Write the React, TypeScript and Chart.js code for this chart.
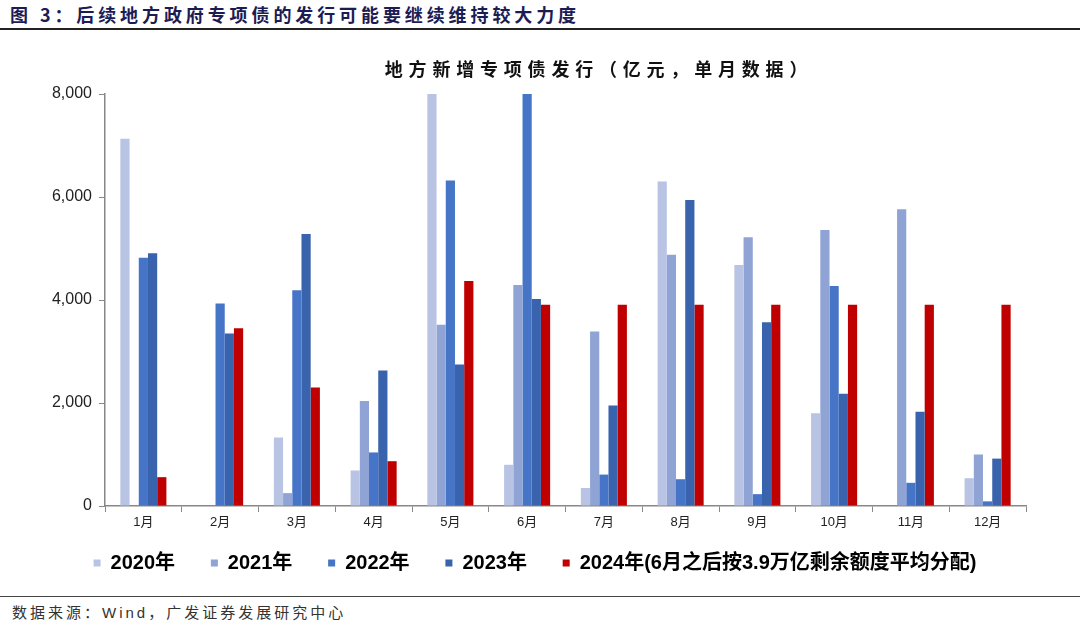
import React, { useEffect, useRef } from "react";
import { Chart, registerables } from "chart.js";

Chart.register(...registerables);

const months = ["1月", "2月", "3月", "4月", "5月", "6月", "7月", "8月", "9月", "10月", "11月", "12月"];
const s2020 = [7130, null, 1330, 690, 8000, 800, 350, 6300, 4680, 1800, null, 540];
const s2021 = [null, null, 250, 2040, 3520, 4290, 3390, 4880, 5220, 5360, 5760, 1000];
const s2022 = [4820, 3930, 4190, 1040, 6320, 8000, 610, 520, 230, 4270, 450, 90];
const s2023 = [4910, 3350, 5280, 2630, 2750, 4020, 1950, 5940, 3570, 2180, 1830, 920];
const s2024 = [560, 3450, 2300, 870, 4370, 3910, 3910, 3910, 3910, 3910, 3910, 3910];
const seriesNames = ["2020年", "2021年", "2022年", "2023年", "2024年(6月之后按3.9万亿剩余额度平均分配)"];
const seriesColors = ["#B9C4E4", "#8FA4D5", "#4674C6", "#3A63AD", "#C00000"];
const yTicks = [0, 2000, 4000, 6000, 8000];

const figTitle = "图 3：后续地方政府专项债的发行可能要继续维持较大力度";
const chartTitle = "地方新增专项债发行（亿元，单月数据）";
const sourceText = "数据来源：Wind，广发证券发展研究中心";

const FONT = "'Liberation Sans', Arial, 'Noto Sans CJK SC', sans-serif";
const LEGEND_GAP = "     ";

export default function App() {
  const ref = useRef<HTMLCanvasElement | null>(null);

  useEffect(() => {
    if (!ref.current) return;
    const all = [s2020, s2021, s2022, s2023, s2024];
    const chart = new Chart(ref.current, {
      type: "bar",
      data: {
        labels: months,
        datasets: all.map((d, i) => ({
          label: seriesNames[i],
          data: d,
          backgroundColor: seriesColors[i],
          borderWidth: 0,
          barPercentage: 1,
          categoryPercentage: 0.6,
        })),
      },
      options: {
        responsive: false,
        animation: false,
        maintainAspectRatio: false,
        layout: { padding: { left: 44, right: 54, top: 54, bottom: 0 } },
        plugins: {
          title: { display: false },
          tooltip: { enabled: false },
          legend: {
            display: true,
            position: "bottom",
            labels: {
              boxWidth: 7,
              boxHeight: 7,
              padding: 8,
              color: "#000",
              font: { family: FONT, size: 20, weight: "bold" },
              generateLabels: (c: any) => {
                const items = (Chart as any).defaults.plugins.legend.labels.generateLabels(c);
                return items.map((it: any, i: number) => ({
                  ...it,
                  text: i < items.length - 1 ? it.text + LEGEND_GAP : it.text,
                  lineWidth: 0,
                }));
              },
            },
          },
        },
        scales: {
          x: {
            grid: {
              offset: true,
              drawOnChartArea: false,
              drawTicks: true,
              tickLength: 6,
              color: "#888",
            },
            border: { color: "#888", width: 1.5 },
            ticks: {
              color: "#222",
              padding: 3,
              font: { family: FONT, size: 13 },
            },
            afterFit: (s: any) => {
              s.height = 39;
            },
          },
          y: {
            min: 0,
            max: 8000,
            afterBuildTicks: (s: any) => {
              s.ticks = yTicks.map((v) => ({ value: v }));
            },
            grid: {
              drawOnChartArea: false,
              drawTicks: true,
              tickLength: 6,
              color: "#888",
            },
            border: { color: "#888", width: 1.5 },
            ticks: {
              color: "#222",
              padding: 7,
              font: { family: FONT, size: 16 },
              callback: (v: any) => Number(v).toLocaleString("en-US"),
            },
            afterFit: (s: any) => {
              s.width = 61;
            },
          },
        },
      },
    });
    return () => chart.destroy();
  }, []);

  return (
    <div
      style={{
        position: "absolute",
        left: 0,
        top: 0,
        width: 1080,
        height: 631,
        background: "#fff",
        overflow: "hidden",
        fontFamily: FONT,
      }}
    >
      <div
        style={{
          position: "absolute",
          left: 10,
          top: 2,
          fontSize: 18,
          fontWeight: "bold",
          color: "#1c1c54",
          letterSpacing: 3.9,
          whiteSpace: "nowrap",
          lineHeight: "24px",
          fontFamily: "'Noto Sans CJK SC', sans-serif",
        }}
      >
        {figTitle}
      </div>
      <div
        style={{ position: "absolute", left: 0, top: 28, width: 1080, height: 2, background: "#222" }}
      />
      <canvas
        ref={ref}
        width={1080}
        height={543}
        style={{ position: "absolute", left: 0, top: 40, width: 1080, height: 543 }}
      />
      <div
        style={{
          position: "absolute",
          left: 379,
          top: 55,
          width: 440,
          textAlign: "center",
          fontSize: 18,
          fontWeight: "bold",
          color: "#111",
          letterSpacing: 5.8,
          whiteSpace: "nowrap",
          lineHeight: "26px",
          fontFamily: "'Noto Sans CJK SC', sans-serif",
        }}
      >
        {chartTitle}
      </div>
      <div
        style={{ position: "absolute", left: 0, top: 596, width: 1080, height: 1, background: "#444" }}
      />
      <div
        style={{
          position: "absolute",
          left: 12,
          top: 602,
          fontSize: 15,
          color: "#333",
          letterSpacing: 3,
          whiteSpace: "nowrap",
          lineHeight: "22px",
          fontFamily: FONT,
        }}
      >
        {sourceText}
      </div>
    </div>
  );
}
